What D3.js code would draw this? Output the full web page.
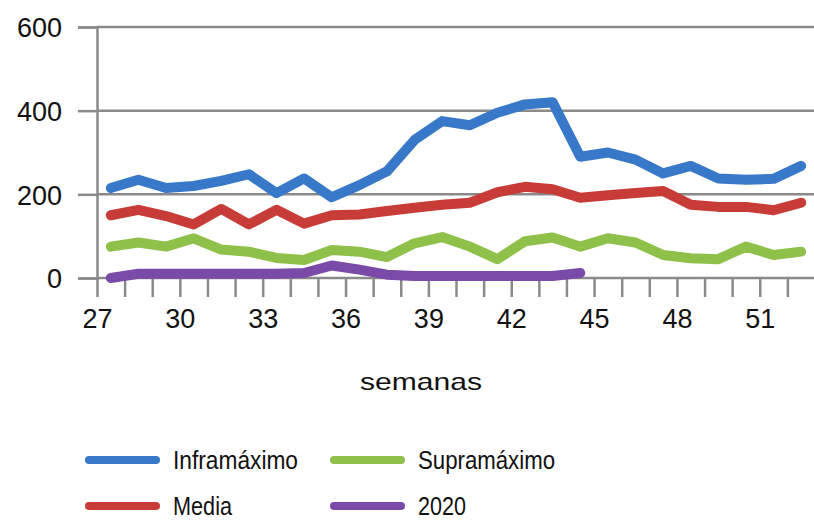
<!DOCTYPE html>
<html>
<head>
<meta charset="utf-8">
<script src="https://cdn.jsdelivr.net/npm/d3@7"></script>
<style>
  body { margin: 0; background: #fff; }
  text { font-family: "Liberation Sans", Arial, sans-serif; fill: #111; }
</style>
</head>
<body>
<svg id="chart" width="814" height="523"></svg>
<script>
// Weekly values.
const weeks = [27, 28, 29, 30, 31, 32, 33, 34, 35, 36, 37, 38, 39,
               40, 41, 42, 43, 44, 45, 46, 47, 48, 49, 50, 51, 52];

const inframaximo = [215, 235, 215, 220, 232, 248, 203, 238, 193, 222, 255, 330, 375,
                     365, 395, 415, 420, 290, 300, 283, 250, 268, 238, 235, 237, 268];
const media = [150, 163, 148, 128, 165, 128, 163, 130, 150, 152, 160, 168, 175,
               180, 205, 218, 212, 192, 198, 203, 208, 175, 170, 170, 162, 180];
const supramaximo = [75, 85, 75, 95, 68, 63, 48, 43, 67, 63, 50, 83, 98,
                     75, 45, 88, 97, 75, 95, 85, 55, 47, 45, 75, 55, 63];
// 2020 only runs up to week 44
const y2020 = [0, 10, 10, 10, 10, 10, 10, 12, 30, 20, 8, 5, 5,
               5, 5, 5, 5, 12];

const seriesNames = ["Inframáximo", "Supramáximo", "Media", "2020"];
const seriesColors = ["#3878c8", "#8fc04a", "#c83c38", "#7a4aa8"];
const yTicks = [0, 200, 400, 600];

const series = [inframaximo, supramaximo, media, y2020].map((vals, i) => ({
    name: seriesNames[i],
    color: seriesColors[i],
    values: vals.map((v, j) => ({week: weeks[j], value: v}))
}));

const svg = d3.select("#chart");

// weeks sit between tick marks, so a point for week w is drawn at w + 0.5
let x = d3.scaleLinear().domain([27, 53]).range([97, 815]);
let y = d3.scaleLinear().domain([0, 600]).range([278, 27]);

// Horizontal gridlines
svg.append("g")
    .selectAll("line")
    .data(yTicks)
    .enter().append("line")
    .attr("x1", 97).attr("x2", 814)
    .attr("y1", d => y(d)).attr("y2", d => y(d))
    .attr("stroke", "#8a8a8a")
    .attr("stroke-width", 2.5);

// Y axis
let yAxis = svg.append("g")
    .attr("transform", "translate(97,0)")
    .call(d3.axisLeft(y).tickValues(yTicks).tickSize(19).tickPadding(16));
yAxis.select(".domain").attr("stroke", "#8a8a8a").attr("stroke-width", 2.5);
yAxis.selectAll(".tick line").attr("stroke", "#8a8a8a").attr("stroke-width", 2.5);
yAxis.selectAll(".tick text").attr("font-size", 27).attr("dy", "0.36em");

// X axis: tick mark at every week, label every third week
let xAxis = svg.append("g")
    .attr("transform", "translate(0,278)")
    .call(d3.axisBottom(x)
        .tickValues(weeks)
        .tickSize(19)
        .tickPadding(12)
        .tickFormat(d => (d - 27) % 3 === 0 ? d : ""));
xAxis.select(".domain").remove();
xAxis.selectAll(".tick line").attr("stroke", "#8a8a8a").attr("stroke-width", 2.5);
xAxis.selectAll(".tick text").attr("font-size", 27);

// Axis title
svg.append("text")
    .attr("x", 421)
    .attr("y", 390)
    .attr("text-anchor", "middle")
    .attr("font-size", 24)
    .attr("textLength", 122)
    .attr("lengthAdjust", "spacingAndGlyphs")
    .text("semanas");

// Series lines
let line = d3.line()
    .x(d => x(d.week + 0.5))
    .y(d => y(d.value));

svg.append("g")
    .selectAll("path")
    .data(series)
    .enter().append("path")
    .attr("fill", "none")
    .attr("stroke", d => d.color)
    .attr("stroke-width", 10)
    .attr("stroke-linejoin", "round")
    .attr("stroke-linecap", "round")
    .attr("d", d => line(d.values));

// Legend, two columns
let legendX = [85, 330];
let legendY = [460, 506];
let legendWidths = [125, 137, 59, 48];

let legend = svg.append("g")
    .selectAll("g")
    .data(series)
    .enter().append("g")
    .attr("transform", (d, i) => "translate(" + legendX[i % 2] + "," + legendY[Math.floor(i / 2)] + ")");

legend.append("line")
    .attr("x1", 4).attr("x2", 71)
    .attr("stroke", d => d.color)
    .attr("stroke-width", 8)
    .attr("stroke-linecap", "round");

legend.append("text")
    .attr("x", 88)
    .attr("dy", "0.34em")
    .attr("font-size", 26)
    .attr("textLength", (d, i) => legendWidths[i])
    .attr("lengthAdjust", "spacingAndGlyphs")
    .text(d => d.name);
</script>
</body>
</html>
